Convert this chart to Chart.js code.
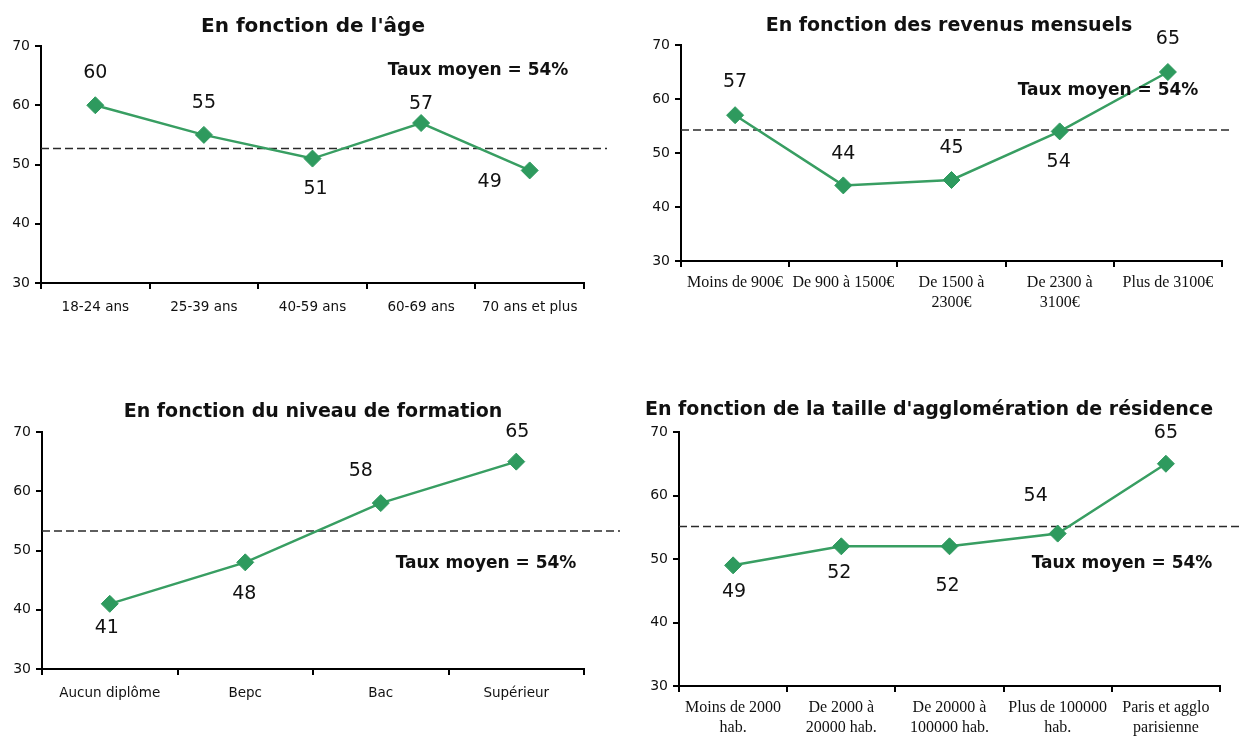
<!DOCTYPE html>
<html lang="fr">
<head>
<meta charset="utf-8">
<title>Taux moyen par catégorie</title>
<script src="https://cdn.jsdelivr.net/npm/chart.js@4.4.1/dist/chart.umd.min.js"></script>
<style>
  html, body { margin: 0; padding: 0; background: #fff; }
  body { width: 1241px; height: 737px; position: relative; overflow: hidden; }
  canvas { position: absolute; }
</style>
</head>
<body>
<canvas id="chartAge" width="620" height="345" style="left:0;top:0"></canvas>
<canvas id="chartRevenu" width="621" height="345" style="left:620px;top:0"></canvas>
<canvas id="chartFormation" width="620" height="357" style="left:0;top:380px"></canvas>
<canvas id="chartAgglo" width="621" height="357" style="left:620px;top:380px"></canvas>
<script>
// Données
const titres = [
    "En fonction de l'âge",
    "En fonction des revenus mensuels",
    "En fonction du niveau de formation",
    "En fonction de la taille d'agglomération de résidence"
];

const ageLabels  = ["18-24 ans", "25-39 ans", "40-59 ans", "60-69 ans", "70 ans et plus"];
const ageValeurs = [60, 55, 51, 57, 49];

const revenuLabels  = [["Moins de 900€"], ["De 900 à 1500€"], ["De 1500 à", "2300€"], ["De 2300 à", "3100€"], ["Plus de 3100€"]];
const revenuValeurs = [57, 44, 45, 54, 65];

const formationLabels  = ["Aucun diplôme", "Bepc", "Bac", "Supérieur"];
const formationValeurs = [41, 48, 58, 65];

const aggloLabels  = [["Moins de 2000", "hab."], ["De 2000 à", "20000 hab."], ["De 20000 à", "100000 hab."], ["Plus de 100000", "hab."], ["Paris et agglo", "parisienne"]];
const aggloValeurs = [49, 52, 52, 54, 65];

// niveau de la ligne pointillée tel qu'il apparaît sur chaque graphique
const niveauxMoyens = [52.7, 54.25, 53.3, 55.1];
const texteMoyen = "Taux moyen = 54%";

const yMin = 30, yMax = 70, yPas = 10;

const VERT_LIGNE = "#389e62";
const VERT_POINT = "#2e9a5e";
const NOIR = "#111";

// Titre, ligne moyenne, libellé "Taux moyen" et étiquettes de valeurs
const decorPlugin = {
    id: "decor",
    beforeDatasetsDraw(chart, args, opts) {
        const { ctx, chartArea } = chart;
        const yy = chart.scales.y.getPixelForValue(opts.moyenne);
        ctx.save();
        ctx.strokeStyle = "#2a2a2a";
        ctx.lineWidth = 1.5;
        ctx.setLineDash([8, 4]);
        ctx.beginPath();
        ctx.moveTo(chartArea.left, yy);
        ctx.lineTo(chartArea.right + opts.extLigne, yy);
        ctx.stroke();
        ctx.restore();
    },
    afterDatasetsDraw(chart, args, opts) {
        const ctx = chart.ctx;
        ctx.save();
        ctx.fillStyle = NOIR;

        ctx.font = "bold " + opts.tailleTitre + "px 'DejaVu Sans'";
        ctx.textAlign = "center";
        ctx.textBaseline = "alphabetic";
        ctx.fillText(opts.titre, opts.titrePos[0], opts.titrePos[1]);

        ctx.font = "bold 17px 'DejaVu Sans'";
        ctx.textBaseline = "middle";
        ctx.fillText(texteMoyen, opts.moyenPos[0], opts.moyenPos[1]);

        ctx.font = "19px 'DejaVu Sans'";
        const meta = chart.getDatasetMeta(0);
        const valeurs = chart.data.datasets[0].data;
        meta.data.forEach((pt, i) => {
            const [dx, dy] = opts.decalages[i];
            ctx.fillText(String(valeurs[i]), pt.x + dx, pt.y + dy);
        });
        ctx.restore();
    }
};

function creerGraphique(id, labels, valeurs, cfg) {
    const xFont = cfg.serif
        ? { family: "'Liberation Serif', 'Times New Roman', serif", size: 16, lineHeight: 1.25 }
        : { family: "'DejaVu Sans', sans-serif", size: 13.5, lineHeight: 1.2 };

    return new Chart(document.getElementById(id), {
        type: "line",
        data: {
            labels: labels,
            datasets: [{
                data: valeurs,
                borderColor: VERT_LIGNE,
                borderWidth: 2.5,
                tension: 0,
                pointStyle: "rectRot",
                pointRadius: 8.5,
                pointBackgroundColor: VERT_POINT,
                pointBorderColor: VERT_POINT,
                pointBorderWidth: 1
            }]
        },
        options: {
            responsive: false,
            animation: false,
            events: [],
            layout: { padding: cfg.padding },
            plugins: {
                legend: { display: false },
                tooltip: { enabled: false },
                decor: {
                    titre: cfg.titre,
                    tailleTitre: cfg.tailleTitre,
                    titrePos: cfg.titrePos,
                    moyenne: cfg.moyenne,
                    moyenPos: cfg.moyenPos,
                    extLigne: cfg.extLigne,
                    decalages: cfg.decalages
                }
            },
            scales: {
                x: {
                    offset: true,
                    grid: { offset: true, drawOnChartArea: false, drawTicks: true, tickLength: 6, color: "#000", lineWidth: 2 },
                    border: { display: true, color: "#000", width: 2 },
                    ticks: { color: NOIR, font: xFont, padding: cfg.serif ? 6 : 10, maxRotation: 0, autoSkip: false },
                    afterFit(scale) { scale.height = cfg.hauteurX; }
                },
                y: {
                    min: yMin,
                    max: yMax,
                    grid: { drawOnChartArea: false, drawTicks: true, tickLength: 6, color: "#000", lineWidth: 2 },
                    border: { display: true, color: "#000", width: 2 },
                    ticks: { stepSize: yPas, color: NOIR, font: { family: "'DejaVu Sans', sans-serif", size: 14 }, padding: 5 },
                    afterFit(scale) { scale.width = cfg.largeurY; }
                }
            }
        },
        plugins: [decorPlugin]
    });
}

creerGraphique("chartAge", ageLabels, ageValeurs, {
    titre: titres[0], tailleTitre: 20, titrePos: [313, 31.5],
    moyenne: niveauxMoyens[0], moyenPos: [478, 71], extLigne: 23,
    padding: { left: 0, top: 46, right: 36, bottom: 22 }, largeurY: 41, hauteurX: 40,
    decalages: [[0, -32], [0, -32], [3, 30], [0, -19], [-40, 12]]
});

creerGraphique("chartRevenu", revenuLabels, revenuValeurs, {
    serif: true,
    titre: titres[1], tailleTitre: 19, titrePos: [329, 31],
    moyenne: niveauxMoyens[1], moyenPos: [488, 91], extLigne: 8,
    padding: { left: 0, top: 45, right: 19, bottom: 34 }, largeurY: 61, hauteurX: 50,
    decalages: [[0, -33], [0, -31], [0, -32], [-1, 31], [0, -33]]
});

creerGraphique("chartFormation", formationLabels, formationValeurs, {
    titre: titres[2], tailleTitre: 19, titrePos: [313, 37],
    moyenne: niveauxMoyens[2], moyenPos: [486, 184], extLigne: 43,
    padding: { left: 0, top: 52, right: 36, bottom: 28 }, largeurY: 42, hauteurX: 40,
    decalages: [[-3, 24], [-1, 32], [-20, -32], [1, -30]]
});

creerGraphique("chartAgglo", aggloLabels, aggloValeurs, {
    serif: true,
    titre: titres[3], tailleTitre: 19, titrePos: [309, 35],
    moyenne: niveauxMoyens[3], moyenPos: [502, 184], extLigne: 25,
    padding: { left: 0, top: 52, right: 21, bottom: 1 }, largeurY: 59, hauteurX: 50,
    decalages: [[1, 27], [-2, 27], [-2, 40], [-22, -38], [0, -31]]
});
</script>
</body>
</html>
